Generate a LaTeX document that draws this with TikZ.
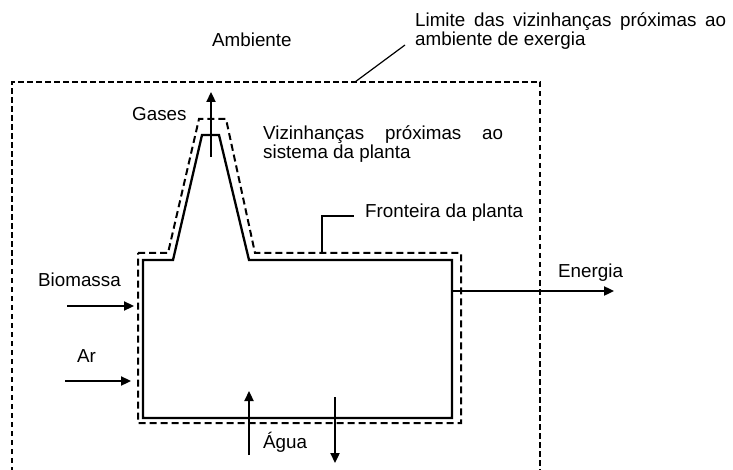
\documentclass[tikz,border=0pt]{standalone}
\usepackage{fontspec}
\setmainfont{Liberation Sans}
\usetikzlibrary{arrows.meta}
\begin{document}
\begin{tikzpicture}[x=1pt,y=-1pt,
  lbl/.style={inner sep=0pt,anchor=base west,font=\fontsize{18.8}{18.8}\selectfont},
  flow/.style={line width=2.3pt,-{Triangle[length=10pt,width=9pt]}},
  plant/.style={line width=2.3pt,line join=miter},
  bound/.style={line width=2pt,dash pattern=on 7pt off 4pt},
  outer/.style={line width=1.3pt,dash pattern=on 5.5pt off 3.5pt},
  callout/.style={line width=1.2pt}]
\useasboundingbox (0,0) rectangle (733,470);
% outer dashed limit
\draw[outer] (12,472) -- (12,82) -- (540,82) -- (540,472);
% plant (solid)
\draw[plant] (143,260) -- (173,260) -- (202,135) -- (219,135) -- (249,260) -- (452,260) -- (452,418) -- (143,418) -- cycle;
% plant boundary (dashed)
\draw[bound] (138,253) -- (168,253) -- (199,119) -- (226,119) -- (255,253) -- (461,253) -- (461,423) -- (138,423) -- cycle;
% coordinates for flows
\coordinate (g0) at (211,157); \coordinate (g1) at (211,92);
\coordinate (b0) at (67,306);  \coordinate (b1) at (134,306);
\coordinate (a0) at (65,381);  \coordinate (a1) at (131,381);
\coordinate (e0) at (452,291); \coordinate (e1) at (614,291);
\coordinate (w0) at (249,455); \coordinate (w1) at (249,391);
\coordinate (v0) at (335,397); \coordinate (v1) at (335,463);
\draw[flow] (g0) -- (g1);
\draw[flow] (b0) -- (b1);
\draw[flow] (a0) -- (a1);
\draw[flow] (e0) -- (e1);
\draw[flow] (w0) -- (w1);
\draw[flow] (v0) -- (v1);
% callouts
\coordinate (l0) at (355,82); \coordinate (l1) at (405,45);
\draw[callout] (l0) -- (l1);
\coordinate (f0) at (322,252); \coordinate (f1) at (322,216); \coordinate (f2) at (354,216);
\draw[line width=1.7pt] (f0) -- (f1) -- (f2);
% labels
\node[lbl] (amb) at (212,47) {Ambiente};
\node[lbl] (lim1) at (415,27) {\makebox[311pt][s]{Limite das vizinhanças próximas ao}};
\node[lbl] (lim2) at (415,46) {ambiente de exergia};
\node[lbl] (gas) at (132,121) {Gases};
\node[lbl] (viz1) at (263,140) {\makebox[240pt][s]{Vizinhanças próximas ao}};
\node[lbl] (viz2) at (263,159) {sistema da planta};
\node[lbl] (fro) at (365,218) {Fronteira da planta};
\node[lbl] (bio) at (38,287) {Biomassa};
\node[lbl] (ar) at (77,362) {Ar};
\node[lbl] (ene) at (558,277) {Energia};
\node[lbl] (agu) at (263,448) {Água};
\end{tikzpicture}
\end{document}
